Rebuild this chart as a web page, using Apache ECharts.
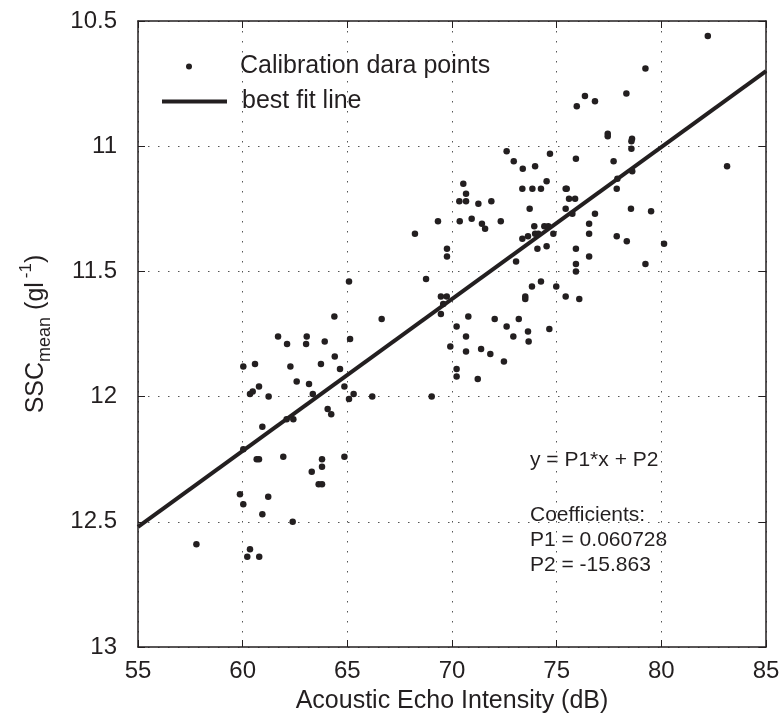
<!DOCTYPE html>
<html>
<head>
<meta charset="utf-8">
<title>SSC mean vs acoustic echo intensity</title>
<script src="https://cdn.jsdelivr.net/npm/echarts@6/dist/echarts.min.js"></script>
<style>
  html, body { margin: 0; padding: 0; background: #fff; }
  #chart { width: 783px; height: 715px; }
</style>
</head>
<body>
<div id="chart"></div>
<script>
// calibration points (dB, SSC mean)
const echoX = [
  64.38, 66.64, 61.69, 63.06, 62.12, 63.03, 63.92, 65.13, 60.03, 60.59,
  62.28, 63.74, 64.40, 64.65, 62.58, 63.17, 60.78, 60.35, 60.48, 61.24,
  63.35, 64.86, 65.30, 65.08, 66.19, 64.06, 64.23, 60.94, 62.10, 62.42,
  60.03, 60.67, 60.78, 61.94, 63.79, 64.86, 63.30, 63.79, 63.63, 63.79,
  59.87, 60.03, 61.22, 60.94, 62.39, 57.79, 60.35, 60.22, 60.79, 65.08,
  68.23, 68.76, 69.33, 69.47, 69.75, 69.47, 69.58, 69.76, 69.76, 70.35,
  70.67, 71.26, 71.88, 70.37, 70.94, 71.43, 71.58, 72.33, 73.71, 73.93,
  74.41, 74.60, 73.97, 74.12, 73.63, 73.36, 74.08, 74.52, 73.06, 74.25,
  73.82, 73.50, 73.50, 70.22, 70.78, 72.04, 72.61, 73.19, 73.63, 72.93,
  73.66, 74.65, 70.67, 69.92, 70.67, 71.39, 71.83, 72.48, 70.22, 70.22,
  71.23, 69.03, 72.61, 72.95, 73.38, 73.97, 74.68, 74.52, 70.54, 70.67,
  73.36, 73.84, 74.25, 82.22, 79.24, 78.33, 76.35, 76.83, 75.96, 77.44,
  77.44, 78.60, 78.57, 78.57, 75.92, 77.72, 83.14, 78.61, 77.90, 75.43,
  75.48, 75.59, 75.88, 77.87, 75.43, 75.75, 76.83, 78.55, 79.51, 74.84,
  76.55, 76.55, 77.87, 78.35, 80.13, 75.92, 76.55, 75.92, 75.92, 79.24,
  74.98, 75.43, 76.08
]
const sscMean = [
  11.68, 11.69, 11.76, 11.76, 11.79, 11.79, 11.78, 11.77, 11.88, 11.87,
  11.88, 11.87, 11.84, 11.89, 11.94, 11.95, 11.96, 11.99, 11.98, 12.00,
  11.99, 11.96, 11.99, 12.01, 12.00, 12.05, 12.07, 12.12, 12.09, 12.09,
  12.21, 12.25, 12.25, 12.24, 12.25, 12.24, 12.30, 12.28, 12.35, 12.35,
  12.39, 12.43, 12.40, 12.47, 12.50, 12.59, 12.61, 12.64, 12.64, 11.54,
  11.35, 11.53, 11.30, 11.60, 11.60, 11.67, 11.63, 11.41, 11.44, 11.22,
  11.22, 11.23, 11.22, 11.30, 11.29, 11.31, 11.33, 11.30, 11.25, 11.32,
  11.32, 11.32, 11.35, 11.35, 11.36, 11.37, 11.41, 11.40, 11.46, 11.54,
  11.56, 11.60, 11.61, 11.72, 11.68, 11.69, 11.72, 11.69, 11.74, 11.76,
  11.78, 11.73, 11.76, 11.80, 11.82, 11.81, 11.83, 11.86, 11.89, 11.92,
  11.93, 12.00, 11.02, 11.06, 11.09, 11.08, 11.03, 11.14, 11.15, 11.19,
  11.17, 11.17, 11.17, 10.56, 10.69, 10.79, 10.80, 10.82, 10.84, 10.95,
  10.96, 10.97, 10.98, 11.01, 11.05, 11.06, 11.08, 11.10, 11.13, 11.17,
  11.17, 11.21, 11.21, 11.17, 11.25, 11.27, 11.27, 11.25, 11.26, 11.35,
  11.31, 11.35, 11.36, 11.38, 11.39, 11.41, 11.44, 11.47, 11.50, 11.47,
  11.56, 11.60, 11.61
]

// best fit line end points
const fitX = [55, 85]
const fitY = [12.52, 10.70]

// axis ticks
const xTicks = [55, 60, 65, 70, 75, 80, 85]
const yTicks = [10.5, 11, 11.5, 12, 12.5, 13]

const fitText = ['y = P1*x + P2', 'Coefficients:', 'P1 = 0.060728', 'P2 = -15.863']

const ink = '#231f20'
const font = "'Liberation Sans', Arial, Helvetica, sans-serif"

const chart = echarts.init(document.getElementById('chart'), null, { renderer: 'canvas' })

const points = echoX.map((x, i) => [x, sscMean[i]])
const fitLine = fitX.map((x, i) => [x, fitY[i]])

// box axes: ticks inside, dotted grid
const baseX = {
  type: 'value',
  min: xTicks[0],
  max: xTicks[xTicks.length - 1],
  interval: xTicks[1] - xTicks[0],
  axisLine: { show: true, onZero: false, lineStyle: { color: ink, width: 1.5 } },
  axisTick: { show: true, inside: true, length: 7, lineStyle: { color: ink, width: 1 } }
}
const baseY = {
  type: 'value',
  inverse: true,
  min: yTicks[0],
  max: yTicks[yTicks.length - 1],
  interval: yTicks[1] - yTicks[0],
  axisLine: { show: true, onZero: false, lineStyle: { color: ink, width: 1.5 } },
  axisTick: { show: true, inside: true, length: 7, lineStyle: { color: ink, width: 1 } }
}
const dotted = { show: true, lineStyle: { color: '#555', width: 1, type: [1.5, 8.5] } }

const option = {
  animation: false,
  backgroundColor: '#fff',
  textStyle: { fontFamily: font, color: ink },
  grid: { left: 138, right: 17, top: 21, bottom: 68, containLabel: false, outerBoundsMode: 'none' },
  legend: [
    {
      data: [{ name: 'Calibration dara points', icon: 'circle' }],
      left: 181, top: 49,
      itemWidth: 6, itemHeight: 6,
      textStyle: { fontSize: 25, color: ink, fontFamily: font, padding: [0, 0, 0, 43] }
    },
    {
      data: [{ name: 'best fit line', icon: 'rect' }],
      left: 157, top: 84,
      itemWidth: 65, itemHeight: 4,
      textStyle: { fontSize: 25, color: ink, fontFamily: font, padding: [0, 0, 0, 10] }
    }
  ],
  xAxis: [
    Object.assign({}, baseX, {
      position: 'bottom',
      axisLabel: { fontSize: 24, color: ink, margin: 12, showMinLabel: true, showMaxLabel: true },
      splitLine: dotted,
      name: 'Acoustic Echo Intensity (dB)',
      nameLocation: 'middle',
      nameGap: 42,
      nameTextStyle: { fontSize: 25, color: ink, fontFamily: font }
    }),
    Object.assign({}, baseX, {
      position: 'top',
      axisLabel: { show: false },
      splitLine: { show: false }
    })
  ],
  yAxis: [
    Object.assign({}, baseY, {
      position: 'left',
      axisLabel: { fontSize: 24, color: ink, margin: 21, showMinLabel: true, showMaxLabel: true },
      splitLine: dotted,
      name: '{a|SSC}{s|mean}{a| (gl}{p|-1}{a|)}',
      nameLocation: 'middle',
      nameGap: 84,
      nameTextStyle: {
        rich: {
          a: { fontSize: 25, color: ink, fontFamily: font, lineHeight: 36 },
          s: { fontSize: 18, color: ink, fontFamily: font, lineHeight: 18, verticalAlign: 'bottom' },
          p: { fontSize: 17, color: ink, fontFamily: font, lineHeight: 17, verticalAlign: 'top', padding: [0, 0, 0, 4] }
        }
      }
    }),
    Object.assign({}, baseY, {
      position: 'right',
      axisLabel: { show: false },
      splitLine: { show: false }
    })
  ],
  graphic: fitText.map((t, i) => ({
    type: 'text',
    x: 530,
    y: [460, 515, 540, 565][i],
    style: { text: t, font: '21px ' + font, fill: ink, verticalAlign: 'middle' }
  })),
  series: [
    {
      name: 'Calibration dara points',
      type: 'scatter',
      data: points,
      symbol: 'circle',
      symbolSize: 6.5,
      itemStyle: { color: ink, opacity: 1 },
      silent: true,
      z: 3
    },
    {
      name: 'best fit line',
      type: 'line',
      data: fitLine,
      symbol: 'none',
      itemStyle: { color: ink },
      lineStyle: { color: ink, width: 4 },
      silent: true,
      z: 4
    }
  ]
}

chart.setOption(option)
</script>
</body>
</html>
